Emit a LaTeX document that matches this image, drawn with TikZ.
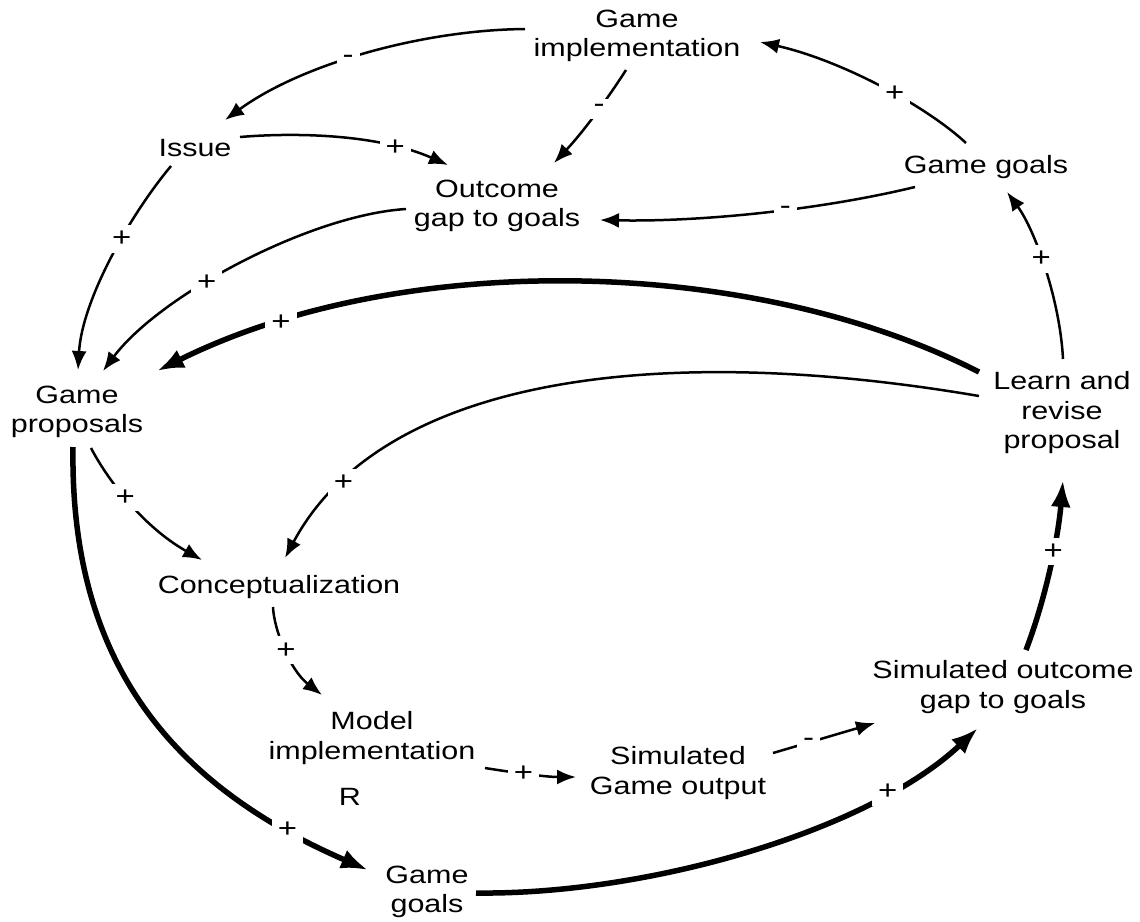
\documentclass[tikz,border=0pt]{standalone}
\usepackage{fontspec}
\setmainfont{Liberation Sans}[FakeStretch=1.22]
\usetikzlibrary{arrows.meta}
\begin{document}
\begin{tikzpicture}[x=1pt,y=-1pt,
  var/.style={align=center, inner sep=0pt, font=\fontsize{25}{29.5}\selectfont},
  link/.style={line width=2.5pt, -{Latex[length=19pt,width=15pt]}},
  strong/.style={line width=5.5pt, -{Latex[length=27pt,width=20pt]}},
  pol/.style={fill=white, inner sep=6pt, font=\fontsize{27}{27}\selectfont}]
\useasboundingbox (0,0) rectangle (1140,921);

% variables of the causal loop diagram
\node[var] (gi)      at (637,36)  {Game\\implementation};
\node[var] (issue)   at (195,148) {Issue};
\node[var] (outcome) at (497,206) {Outcome\\gap to goals};
\node[var] (ggtop)   at (986,167) {Game goals};
\node[var] (gp)      at (77,412)  {Game\\proposals};
\node[var] (learn)   at (1062,413) {Learn and\\revise\\proposal};
\node[var] (concept) at (279,587) {Conceptualization};
\node[var] (model)   at (372,738) {Model\\implementation};
\node[var] (loopR)   at (350,797) {R};
\node[var] (simout)  at (678,773) {Simulated\\Game output};
\node[var] (simgap)  at (1003,687) {Simulated outcome\\gap to goals};
\node[var] (ggbot)   at (427,892) {Game\\goals};

% thin causal links
\draw[link] ([shift={(-112,-7)}]gi.center) .. controls (420,30) and (300,65) .. ([shift={(30,-28)}]issue.center) node[pol,pos=0.55]{-};
\draw[link] ([shift={(-11,34)}]gi.center) .. controls (610,95) and (585,130) .. ([shift={(57,-43)}]outcome.center) node[pol,pos=0.45]{-};
\draw[link] ([shift={(45,-11)}]issue.center) .. controls (300,132) and (380,135) .. ([shift={(-49,-41)}]outcome.center) node[pol,pos=0.75]{+};
\draw[link] ([shift={(-24,18)}]issue.center) .. controls (130,215) and (82,300) .. ([shift={(1,-42)}]gp.center) node[pol,pos=0.4]{+};
\draw[link] ([shift={(-91,3)}]outcome.center) .. controls (310,215) and (160,295) .. ([shift={(26,-41)}]gp.center) node[pol,pos=0.6]{+};
\draw[link] ([shift={(-20,-24)}]ggtop.center) .. controls (925,105) and (840,60) .. ([shift={(123,6)}]gi.center) node[pol,pos=0.42]{+};
\draw[link] ([shift={(-71,20)}]ggtop.center) .. controls (820,210) and (700,222) .. ([shift={(103,14)}]outcome.center) node[pol,pos=0.42]{-};
\draw[link] ([shift={(1,-54)}]learn.center) .. controls (1060,300) and (1035,230) .. ([shift={(21,25)}]ggtop.center) node[pol,pos=0.55]{+};
\draw[link] ([shift={(-83,-17)}]learn.center) .. controls (650,340) and (380,380) .. ([shift={(6,-29)}]concept.center) node[pol,pos=0.84]{+};
\draw[link] ([shift={(14,36)}]gp.center) .. controls (105,475) and (140,525) .. ([shift={(-77,-27)}]concept.center) node[pol,pos=0.47]{+};
\draw[link] ([shift={(-6,20)}]concept.center) .. controls (274,630) and (290,670) .. ([shift={(-50,-43)}]model.center) node[pol,pos=0.5]{+};
\draw[link] ([shift={(113,30)}]model.center) .. controls (510,772) and (545,777) .. ([shift={(-102,4)}]simout.center) node[pol,pos=0.45]{+};
\draw[link] ([shift={(95,-20)}]simout.center) -- ([shift={(-128,36)}]simgap.center) node[pol,pos=0.35]{-};

% strong links of the learning loop
\draw[strong] ([shift={(-83,-41)}]learn.center) .. controls (750,255) and (400,250) .. ([shift={(80,-41)}]gp.center) node[pol,pos=0.84]{+};
\draw[strong] ([shift={(-4,35)}]gp.center) .. controls (70,650) and (160,780) .. ([shift={(-59,-22)}]ggbot.center) node[pol,pos=0.86]{+};
\draw[strong] ([shift={(49,1)}]ggbot.center) .. controls (650,895) and (870,830) .. ([shift={(-25,41)}]simgap.center) node[pol,pos=0.77]{+};
\draw[strong] ([shift={(23,-37)}]simgap.center) .. controls (1045,600) and (1058,540) .. ([shift={(1,67)}]learn.center) node[pol,pos=0.6]{+};
\end{tikzpicture}
\end{document}
